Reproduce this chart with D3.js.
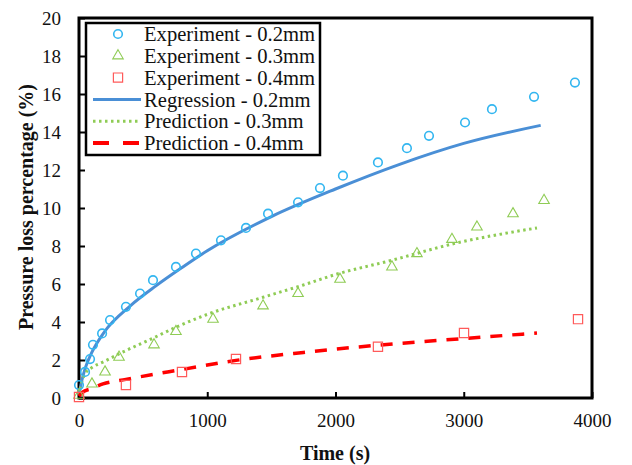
<!DOCTYPE html>
<html><head><meta charset="utf-8">
<script src="https://cdn.jsdelivr.net/npm/d3@7"></script>
<style>body{margin:0;background:#fff}svg{display:block}text{font-family:"Liberation Serif","Times New Roman",serif}</style>
</head><body>
<svg id="c" width="632" height="465"></svg>
<script>
// Experimental points
const exp02T = [0, 47, 86, 109, 180, 242, 366, 476, 577, 756, 912, 1107, 1302, 1474, 1708, 1879, 2058, 2331, 2557, 2729, 3010, 3220, 3548, 3867];
const exp02V = [0.68, 1.37, 2.05, 2.8, 3.4, 4.1, 4.8, 5.5, 6.2, 6.9, 7.6, 8.3, 8.95, 9.7, 10.3, 11.05, 11.7, 12.4, 13.15, 13.8, 14.5, 15.2, 15.85, 16.6];
const exp03T = [0, 101, 203, 312, 585, 756, 1045, 1435, 1708, 2035, 2440, 2635, 2908, 3103, 3384, 3626];
const exp03V = [0.15, 0.74, 1.37, 2.15, 2.8, 3.5, 4.15, 4.85, 5.5, 6.25, 6.9, 7.6, 8.35, 9.0, 9.7, 10.4];
const exp04T = [0, 366, 803, 1224, 2331, 3002, 3891];
const exp04V = [0.05, 0.68, 1.37, 2.05, 2.7, 3.42, 4.15];
// Curves
const reg02T = [0, 25, 50, 100, 200, 400, 600, 800, 1000, 1500, 2000, 2500, 3000, 3600];
const reg02V = [0.2, 1.0, 1.6, 2.4, 3.5, 4.85, 5.9, 6.85, 7.75, 9.55, 11.0, 12.3, 13.4, 14.35];
const pre03T = [0, 20, 50, 100, 190, 320, 577, 764, 1000, 1435, 1750, 2000, 2440, 2908, 3571];
const pre03V = [0.15, 0.8, 1.3, 1.6, 1.9, 2.35, 3.15, 3.75, 4.4, 5.3, 5.95, 6.5, 7.25, 8.1, 8.95];
const pre04T = [0, 25, 100, 187, 366, 803, 1224, 1750, 2331, 3002, 3571];
const pre04V = [0.1, 0.3, 0.5, 0.74, 0.98, 1.5, 1.98, 2.4, 2.78, 3.13, 3.42];
const xTicks = [0, 1000, 2000, 3000, 4000];
const yTicks = [0, 2, 4, 6, 8, 10, 12, 14, 16, 18, 20];
const legendLabels = ["Experiment - 0.2mm", "Experiment - 0.3mm", "Experiment - 0.4mm", "Regression - 0.2mm", "Prediction - 0.3mm", "Prediction - 0.4mm"];

const svg = d3.select("#c");
const L = 79, R = 592, T = 18, B = 398;
const x = d3.scaleLinear().domain([0, 4000]).range([L, R]);
const y = d3.scaleLinear().domain([0, 20]).range([B, T]);

const cBlue = "#33b6f0", cLine = "#4a8fd6", cGreen = "#8fcc55", cRed = "#ff5a5a", cRedLine = "#ff0000";

// axes
const xAx = svg.append("g").attr("transform", `translate(0,${B})`)
  .call(d3.axisBottom(x).tickValues(xTicks).tickSize(-6).tickPadding(16).tickFormat(d3.format("d")));
const yAx = svg.append("g").attr("transform", `translate(${L},0)`)
  .call(d3.axisLeft(y).tickValues(yTicks).tickSize(-6).tickPadding(18));
[xAx, yAx].forEach(g => {
  g.select(".domain").remove();
  g.selectAll(".tick line").attr("stroke", "#000").attr("stroke-width", 2);
  g.selectAll(".tick text").attr("font-size", 19).attr("fill", "#111")
    .attr("font-family", '"Liberation Serif", serif');
});
xAx.selectAll(".tick text").attr("dy", "0.71em");
yAx.selectAll(".tick text").attr("dy", "0.33em");

// frame
svg.append("rect").attr("x", L).attr("y", T).attr("width", R - L).attr("height", B - T)
  .attr("fill", "none").attr("stroke", "#000").attr("stroke-width", 3);

const line = d3.line().x(d => x(d[0])).y(d => y(d[1])).curve(d3.curveMonotoneX);
const zip = (a, b) => a.map((t, i) => [t, b[i]]);

svg.append("path").datum(zip(reg02T, reg02V)).attr("d", line)
  .attr("fill", "none").attr("stroke", cLine).attr("stroke-width", 3);
svg.append("path").datum(zip(pre03T, pre03V)).attr("d", line)
  .attr("fill", "none").attr("stroke", cGreen).attr("stroke-width", 3).attr("stroke-dasharray", "2.5,3.5");
svg.append("path").datum(zip(pre04T, pre04V)).attr("d", line)
  .attr("fill", "none").attr("stroke", cRedLine).attr("stroke-width", 3.5).attr("stroke-dasharray", "12,10");

svg.append("g").selectAll("circle").data(zip(exp02T, exp02V)).join("circle")
  .attr("cx", d => x(d[0])).attr("cy", d => y(d[1])).attr("r", 4.3)
  .attr("fill", "none").attr("stroke", cBlue).attr("stroke-width", 1.6);
const tri = d3.symbol().type(d3.symbolTriangle).size(48);
svg.append("g").selectAll("path").data(zip(exp03T, exp03V)).join("path")
  .attr("d", tri).attr("transform", d => `translate(${x(d[0])},${y(d[1])})`)
  .attr("fill", "none").attr("stroke", cGreen).attr("stroke-width", 1.1);
const sq = d3.symbol().type(d3.symbolSquare).size(85);
svg.append("g").selectAll("path").data(zip(exp04T, exp04V)).join("path")
  .attr("d", sq).attr("transform", d => `translate(${x(d[0])},${y(d[1])})`)
  .attr("fill", "none").attr("stroke", cRed).attr("stroke-width", 1.2);

// legend
const lg = svg.append("g");
lg.append("rect").attr("x", 86).attr("y", 23).attr("width", 234).attr("height", 132)
  .attr("fill", "#fff").attr("stroke", "#000").attr("stroke-width", 2.5);
const rowY = i => 34 + i * 21.8;
legendLabels.forEach((t, i) => {
  lg.append("text").attr("x", 144).attr("y", rowY(i)).attr("dy", "0.35em")
    .attr("font-size", 20.6).attr("fill", "#111").text(t);
});
lg.append("circle").attr("cx", 118).attr("cy", rowY(0)).attr("r", 4.3)
  .attr("fill", "none").attr("stroke", cBlue).attr("stroke-width", 1.6);
lg.append("path").attr("d", tri).attr("transform", `translate(118,${rowY(1)})`)
  .attr("fill", "none").attr("stroke", cGreen).attr("stroke-width", 1.1);
lg.append("path").attr("d", sq).attr("transform", `translate(118,${rowY(2)})`)
  .attr("fill", "none").attr("stroke", cRed).attr("stroke-width", 1.2);
lg.append("line").attr("x1", 93).attr("x2", 141).attr("y1", rowY(3)).attr("y2", rowY(3))
  .attr("stroke", cLine).attr("stroke-width", 3);
lg.append("line").attr("x1", 93).attr("x2", 141).attr("y1", rowY(4)).attr("y2", rowY(4))
  .attr("stroke", cGreen).attr("stroke-width", 3).attr("stroke-dasharray", "2.5,3.5");
lg.append("line").attr("x1", 93).attr("x2", 141).attr("y1", rowY(5)).attr("y2", rowY(5))
  .attr("stroke", cRedLine).attr("stroke-width", 4).attr("stroke-dasharray", "16,14");

// titles
svg.append("text").attr("x", 335).attr("y", 460).attr("text-anchor", "middle")
  .attr("font-size", 20).attr("font-weight", "bold").attr("fill", "#111").text("Time (s)");
svg.append("text").attr("transform", "translate(33,207) rotate(-90)").attr("text-anchor", "middle")
  .attr("font-size", 20).attr("font-weight", "bold").attr("fill", "#111").text("Pressure loss percentage (%)");
</script>
</body></html>
